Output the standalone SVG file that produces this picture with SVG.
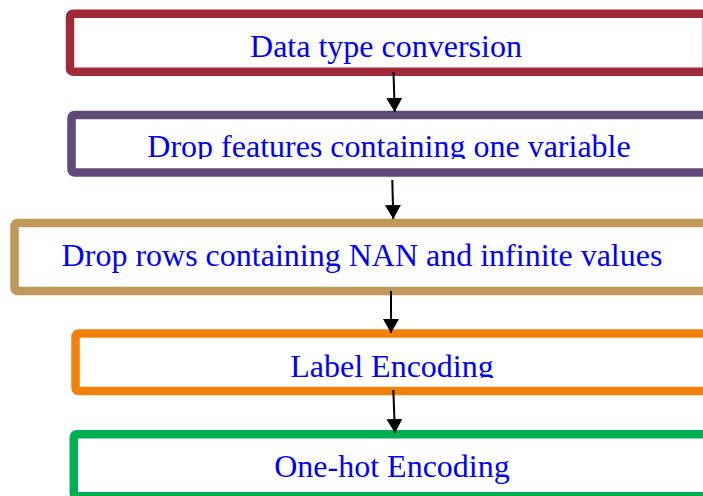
<svg xmlns="http://www.w3.org/2000/svg" width="703" height="496" viewBox="0 0 703 496">
<style>
.box{fill:#fff;stroke-width:8.5}
.lbl{font-family:"Liberation Serif","Times New Roman",serif;font-size:32px;fill:#0000ff;text-anchor:middle}
.arr{stroke:#000;stroke-width:2;fill:none;marker-end:url(#ah)}
</style>
<defs>
<marker id="ah" markerUnits="userSpaceOnUse" markerWidth="17" markerHeight="17" refX="14" refY="8" orient="auto">
<path d="M0,0 L14,8 L0,16 Z" fill="#000"/>
</marker>
<clipPath id="c2"><rect x="0" y="120" width="703" height="39"/></clipPath>
<clipPath id="c4"><rect x="0" y="338" width="703" height="40"/></clipPath>
</defs>
<rect width="703" height="496" fill="#fff"/>
<g id="n1">
<rect class="box" x="70" y="13.7" width="637" height="58" rx="3" stroke="#A12A38"/>
<text class="lbl" x="386" y="56.5">Data type conversion</text>
</g>
<g id="n2">
<rect class="box" x="71.5" y="115" width="660" height="57.5" rx="3" stroke="#604A78"/>
<text class="lbl" x="389" y="157" clip-path="url(#c2)">Drop features containing one variable</text>
</g>
<g id="n3">
<rect class="box" x="14.5" y="223" width="720" height="68" rx="3" stroke="#C0985A"/>
<text class="lbl" x="362" y="266">Drop rows containing NAN and infinite values</text>
</g>
<g id="n4">
<rect class="box" x="75.5" y="333.5" width="660" height="57.5" rx="3" stroke="#F0820C"/>
<text class="lbl" x="392" y="377" clip-path="url(#c4)">Label Encoding</text>
</g>
<g id="n5">
<rect class="box" x="73.8" y="434.2" width="660" height="62" rx="3" stroke="#00B050"/>
<text class="lbl" x="392" y="477">One-hot Encoding</text>
</g>
<g id="connectors">
<line class="arr" x1="393.5" y1="72" x2="394.7" y2="112"/>
<line class="arr" x1="392.3" y1="180" x2="393.3" y2="219"/>
<line class="arr" x1="391" y1="291" x2="391" y2="333"/>
<line class="arr" x1="393.3" y1="390" x2="395" y2="433"/>
</g>
</svg>
